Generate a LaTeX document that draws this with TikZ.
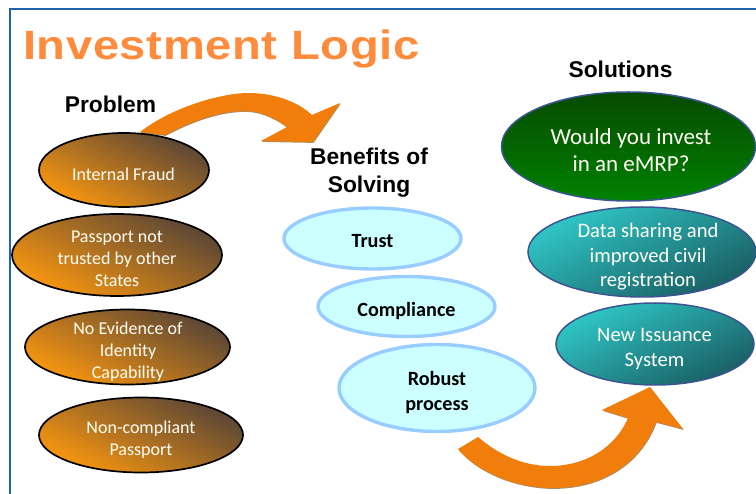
\documentclass[tikz,border=0pt]{standalone}
\usepackage{fontspec}
\usetikzlibrary{shapes.geometric}
\setmainfont{Carlito}
\newfontfamily\headfont{Liberation Sans}
\newfontfamily\titlefont[LetterSpace=1.5,FakeStretch=1.15]{Liberation Sans}
\definecolor{framec}{HTML}{1F62B0}
\definecolor{titlec}{HTML}{FF8B3D}
\definecolor{arrowc}{HTML}{F17D0A}
\definecolor{arrowsh}{HTML}{8A5A20}
\definecolor{orangec}{HTML}{F8960F}
\definecolor{brownc}{HTML}{5A4636}
\definecolor{midbrown}{HTML}{B06E1F}
\definecolor{paleb}{HTML}{CCFFFF}
\definecolor{paleline}{HTML}{99CCFF}
\definecolor{navyline}{HTML}{3A5590}
\definecolor{greentop}{HTML}{074A00}
\definecolor{greenbot}{HTML}{008200}
\definecolor{tealA}{HTML}{2FC6C6}
\definecolor{tealM}{HTML}{2A9EA2}
\definecolor{tealB}{HTML}{1A5F64}
\tikzset{
 x=1pt,y=-1pt,
 elbase/.style={ellipse,inner sep=0pt,minimum width=#1},
 problemel/.style={elbase=#1,draw=black,line width=1.7pt,shading=axis,bottom color=orangec,middle color=midbrown,top color=brownc,shading angle=-28},
 benefitel/.style={elbase=#1,draw=paleline,line width=3.4pt,fill=paleb},
 solgreen/.style={elbase=#1,draw=navyline,line width=1.5pt,shading=axis,bottom color=greenbot,top color=greentop},
 solteal/.style={elbase=#1,draw=navyline,line width=1.5pt,shading=axis,top color=tealA,middle color=tealM,bottom color=tealB,shading angle=28},
 whitetxt/.style={text=white!96!yellow,align=center,font=\fontsize{18}{22.2}\selectfont,inner sep=0pt},
 soltxt/.style={text=white!96!yellow,align=center,font=\fontsize{20.6}{24.5}\selectfont,inner sep=0pt},
 boldtxt/.style={text=black,align=center,font=\fontsize{20.2}{25}\selectfont\bfseries,inner sep=0pt},
 headtxt/.style={text=black,align=center,font=\headfont\fontsize{22.8}{27.5}\selectfont\bfseries,inner sep=0pt},
 blockarrow/.style={fill=arrowc,draw=none},
 blockshadow/.style={fill=arrowsh,draw=none,opacity=.7}
}
\begin{document}
\begin{tikzpicture}
\useasboundingbox (0,0) rectangle (756,494);
\node[anchor=base west,text=titlec,font=\titlefont\fontsize{41}{41}\selectfont\bfseries,inner sep=0pt] (title) at (23,60) {Investment Logic};
\node[headtxt] (problem) at (110.5,104) {Problem};
\node[headtxt] (benefits) at (369,172.5) {Benefits of\\Solving};
\node[headtxt] (solutions) at (620.5,69) {Solutions};
% block arrows
\foreach \s/\st in {1/blockshadow,0/blockarrow}{
\fill[\st,shift={(\s*0.6,\s*0.9)}] (140,132) .. controls (175,105) and (225,93) .. (248,93) .. controls (275,93) and (298,102) .. (312,115) -- (340,103) -- (313,142) -- (261,141) -- (287,127) .. controls (272,116) and (258,111) .. (245,111) .. controls (218,111) and (190,122) .. (165,135) -- cycle;
\fill[\st,shift={(\s*0.6,\s*0.9)}] (458,449) .. controls (480,475) and (520,488) .. (553,488) .. controls (600,488) and (640,465) .. (656,422) -- (683,429) -- (650,387) -- (602,410) -- (628,418) .. controls (615,448) and (585,466) .. (550,466) .. controls (525,466) and (500,456) .. (478,437) -- cycle;
}
% problems
\node[problemel=170pt,minimum height=74pt] (fraud) at (124,170) {};
\node[whitetxt] (fraudt) at (123.5,174) {Internal Fraud};
\node[problemel=210pt,minimum height=82pt] (trusted) at (117,255) {};
\node[whitetxt] (trustedt) at (117,259) {Passport not\\trusted by other\\States};
\node[problemel=205pt,minimum height=75pt] (evidence) at (127.5,347) {};
\node[whitetxt] (evidencet) at (128,352) {No Evidence of\\Identity\\Capability};
\node[problemel=204pt,minimum height=75pt] (noncomp) at (141,435) {};
\node[whitetxt] (noncompt) at (141,440) {Non-compliant\\Passport};
% benefits
\node[benefitel=177pt,minimum height=61pt] (trust) at (372.5,238.5) {};
\node[boldtxt] (trustt) at (372.5,241) {Trust};
\node[benefitel=177pt,minimum height=60pt] (compl) at (406.5,306.5) {};
\node[boldtxt] (complt) at (406.5,311) {Compliance};
\node[benefitel=196pt,minimum height=87pt] (robust) at (437,388) {};
\node[boldtxt] (robustt) at (437,392.5) {Robust\\process};
% solutions
\node[solgreen=254pt,minimum height=109pt] (invest) at (628.5,146.5) {};
\node[soltxt,font=\fontsize{23}{27.2}\selectfont] (investt) at (631,150) {Would you invest\\in an eMRP?};
\node[solteal=228pt,minimum height=90pt] (share) at (642,252) {};
\node[soltxt] (sharet) at (648,257) {Data sharing and\\improved civil\\registration};
\node[solteal=198pt,minimum height=82pt] (issue) at (655,344) {};
\node[soltxt] (issuet) at (654.5,349) {New Issuance\\System};
\draw[framec,line width=2pt] (9.5,494) -- (9.5,9.5) -- (756,9.5);
\end{tikzpicture}
\end{document}
